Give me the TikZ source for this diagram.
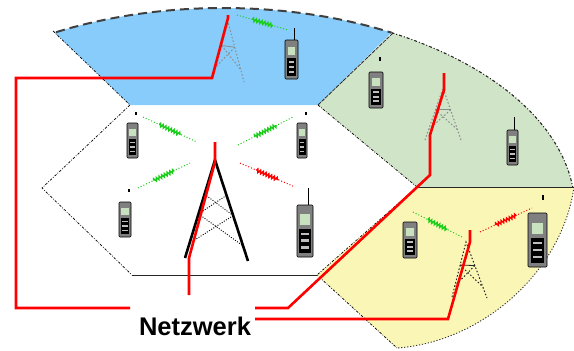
\documentclass[tikz,border=0pt]{standalone}
\usepackage{fontspec}
\setmainfont{Liberation Sans}
\usetikzlibrary{decorations.pathmorphing,calc}

\definecolor{cellblue}{RGB}{135,204,250}
\definecolor{cellgreen}{RGB}{208,228,200}
\definecolor{cellyellow}{RGB}{250,246,182}
\definecolor{netred}{RGB}{255,0,0}
\definecolor{siggreen}{RGB}{25,205,25}
\definecolor{lcd}{RGB}{200,226,192}

\tikzset{
  cellborder/.style={black, line width=0.7pt, dash pattern=on 2.5pt off 1.5pt on 0.8pt off 1.5pt},
  celledge/.style={black!85, line width=0.8pt},
  toparc/.style={black!75, line width=2pt, dash pattern=on 9pt off 5pt},
  sidearc/.style={black!85, line width=1.1pt, dash pattern=on 3pt off 2pt on 1pt off 2pt},
  lowarc/.style={black!80, line width=0.9pt, dash pattern=on 1.2pt off 1.8pt},
  net/.style={netred, line width=2.6pt, line join=miter},
  sigline/.style={line width=1pt, dash pattern=on 1pt off 2pt},
  bolt/.style={line width=1.4pt, decorate, decoration={zigzag, amplitude=1.6pt, segment length=3pt}},
  bigmast/.style={black, line width=2.6pt},
  bracing/.style={black, line width=0.9pt, dash pattern=on 1pt off 1.5pt},
  smallmast/.style={line width=1pt, dash pattern=on 1.5pt off 2pt},
}

% radio link: dotted line with a lightning bolt in the middle
\newcommand\radiolink[3]{%
  \draw[#1, sigline] (#2) -- (#3);
  \draw[#1, bolt] ($(#2)!0.3!(#3)$) -- ($(#2)!0.7!(#3)$);
}

% handheld phone drawn inside the box (x1,y1)-(x2,y2)
\newcommand\handset[4]{%
  \pgfmathsetmacro\hw{#3-#1}%
  \pgfmathsetmacro\hh{#4-#2}%
  \fill[black!50, rounded corners=1pt] (#1,#2) rectangle (#3,#4);
  \fill[lcd] ({#1+0.2*\hw},{#2+0.18*\hh}) rectangle ({#3-0.2*\hw},{#2+0.38*\hh});
  \fill[black] ({#1+0.15*\hw},{#2+0.46*\hh}) rectangle ({#3-0.15*\hw},{#2+0.92*\hh});
  \foreach \rr in {0.53,0.66,0.79}
    \fill[black!25] ({#1+0.28*\hw},{#2+\rr*\hh}) rectangle ({#3-0.28*\hw},{#2+(\rr+0.05)*\hh});
  \draw[black, line width=0.6pt, rounded corners=1pt] (#1,#2) rectangle (#3,#4);
}

% small base-station mast: apex, left foot, right foot, colour
\newcommand\smallmast[4]{%
  \draw[#4, smallmast] (#2) -- (#1) -- (#3);
  \draw[#4, line width=0.8pt] ($(#1)!0.42!(#2)$) -- ($(#1)!0.42!(#3)$);
  \draw[#4, smallmast] ($(#1)!0.42!(#2)$) -- ($(#1)!0.8!(#3)$);
  \draw[#4, smallmast] ($(#1)!0.42!(#3)$) -- ($(#1)!0.8!(#2)$);
}

\begin{document}
\begin{tikzpicture}[x=1pt, y=-1pt]
\useasboundingbox (0,0) rectangle (574,351);

% cell corners
\coordinate (bTL) at (53,31);
\coordinate (bTR) at (393,33);
\coordinate (hTL) at (130,105);
\coordinate (hTR) at (318,105);
\coordinate (hR)  at (417,187);
\coordinate (hBR) at (317,275);
\coordinate (hBL) at (132,275);
\coordinate (hL)  at (42,188);
\coordinate (gR)  at (574,187);
\coordinate (yB)  at (397,348);

% cell fills
\fill[cellblue] (bTL) -- plot[domain=-118.3:-61.4, samples=40] ({223+352*cos(\x)}, {210+202*sin(\x)}) -- (hTR) -- (hTL) -- cycle;
\fill[cellgreen] (bTR) -- plot[domain=-61.4:-6.5, samples=40] ({223+352*cos(\x)}, {210+202*sin(\x)}) -- (gR) -- (hR) -- (hTR) -- cycle;
\fill[cellyellow] (hR) -- (gR) .. controls (562,272) and (482,342) .. (yB) -- (hBR) -- cycle;

% cell borders
\draw[toparc] plot[domain=-118.3:-61.4, samples=40] ({223+352*cos(\x)}, {210+202*sin(\x)});
\draw[sidearc] plot[domain=-61.4:-6.5, samples=40] ({223+352*cos(\x)}, {210+202*sin(\x)});
\draw[lowarc] (gR) .. controls (562,272) and (482,342) .. (yB);
\draw[cellborder] (bTL) -- (hTL) -- (hL) -- (hBL);
\draw[celledge] (hBL) -- (hBR);
\draw[cellborder] (hTR) -- (hR) -- (hBR) -- (yB);
\draw[celledge, dash pattern=on 4pt off 1pt] (bTR) -- (hTR);
\draw[celledge] (hR) -- (gR);

% masts
\smallmast{228,22}{213,78}{244,82}{black!45}
\smallmast{443,88}{425,140}{461,140}{black!45}
\smallmast{466,242}{452,297}{487,298}{black!85}

\coordinate (mA) at (215,160);
\coordinate (mL) at (185,258);
\coordinate (mR) at (248,261);
\draw[bracing] ($(mA)!0.35!(mL)$) -- ($(mA)!0.55!(mR)$);
\draw[bracing] ($(mA)!0.35!(mR)$) -- ($(mA)!0.55!(mL)$);
\draw[bracing] ($(mA)!0.55!(mL)$) -- ($(mA)!0.85!(mR)$);
\draw[bracing] ($(mA)!0.55!(mR)$) -- ($(mA)!0.85!(mL)$);
\draw[bigmast, line join=miter] (mL) -- (mA) -- (mR);

% phones
\handset{285}{40}{298}{79}
\draw[black, line width=1pt] (294,28) -- (294,40);
\handset{127}{123}{138}{158}
\fill[black] (135,112) rectangle (137,115);
\handset{119}{202}{131}{237}
\fill[black] (128,189) rectangle (130,192);
\handset{297}{123}{307}{158}
\fill[black] (305,112) rectangle (307,115);
\handset{297}{205}{313}{257}
\draw[black, line width=1pt] (308,188) -- (308,205);
\handset{369}{72}{383}{108}
\fill[black] (379,57) rectangle (381,61);
\handset{507}{130}{518}{165}
\draw[black, line width=1pt] (514,117) -- (514,130);
\handset{403}{222}{417}{258}
\handset{528}{213}{547}{267}
\fill[black] (542,195) rectangle (544,200);

% radio links
\coordinate (s1a) at (237,15);  \coordinate (s1b) at (288,30);
\coordinate (s2a) at (143,117); \coordinate (s2b) at (197,142);
\coordinate (s3a) at (238,145); \coordinate (s3b) at (293,117);
\coordinate (s4a) at (138,188); \coordinate (s4b) at (190,163);
\coordinate (s5a) at (240,163); \coordinate (s5b) at (295,187);
\coordinate (s6a) at (413,212); \coordinate (s6b) at (462,237);
\coordinate (s7a) at (480,232); \coordinate (s7b) at (532,208);
\radiolink{siggreen}{s1a}{s1b}
\radiolink{siggreen}{s2a}{s2b}
\radiolink{siggreen}{s3a}{s3b}
\radiolink{siggreen}{s4a}{s4b}
\radiolink{netred}{s5a}{s5b}
\radiolink{siggreen}{s6a}{s6b}
\radiolink{netred}{s7a}{s7b}

% network label
\node[font=\fontsize{25.5}{26}\selectfont\bfseries, inner sep=0pt] (net) at (195,326) {Netzwerk};

% network lines
\coordinate (nW1) at (130,308);
\coordinate (nE1) at (255,308);
\coordinate (nE2) at (255,319);
\draw[net] (228,15) -- (228,18) -- (212,78) -- (16,78) -- (16,308) -- (nW1);
\draw[net] (215,142) -- (215,162) -- (189,258) -- (189,295);
\draw[net] (444,73) -- (444,90) -- (430,135) -- (430,175) -- (288,308) -- (nE1);
\draw[net] (470,230) -- (470,242) -- (448,319) -- (nE2);

\end{tikzpicture}
\end{document}
